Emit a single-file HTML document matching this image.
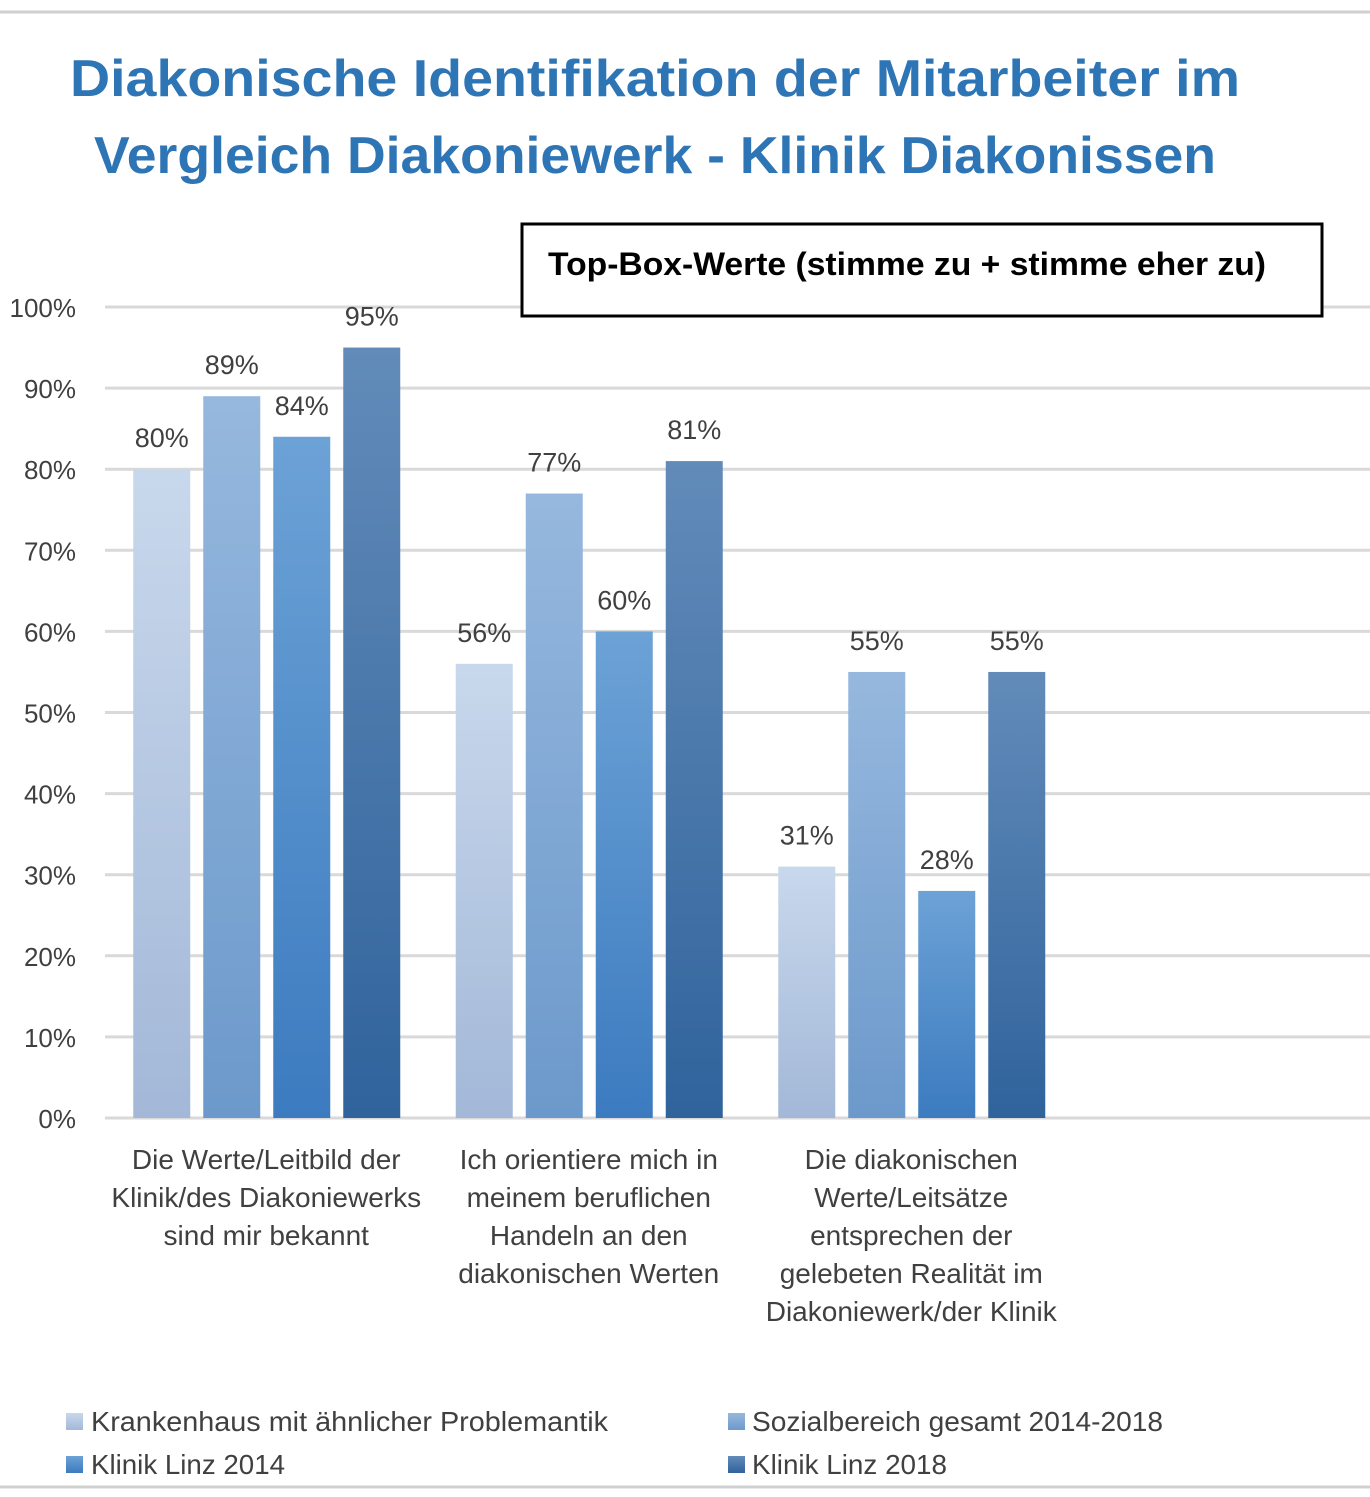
<!DOCTYPE html>
<html><head><meta charset="utf-8"><style>
body{margin:0;background:#fff;}
svg text{font-family:"Liberation Sans",sans-serif;}
</style></head><body>
<svg width="1370" height="1492" xmlns="http://www.w3.org/2000/svg">
<defs>
<linearGradient id="g0" x1="0" y1="0" x2="0" y2="1"><stop offset="0" stop-color="#c8d8ec"/><stop offset="1" stop-color="#a3b8d8"/></linearGradient>
<linearGradient id="g1" x1="0" y1="0" x2="0" y2="1"><stop offset="0" stop-color="#96b8de"/><stop offset="1" stop-color="#6c99cb"/></linearGradient>
<linearGradient id="g2" x1="0" y1="0" x2="0" y2="1"><stop offset="0" stop-color="#6ca2d6"/><stop offset="1" stop-color="#3c7bc0"/></linearGradient>
<linearGradient id="g3" x1="0" y1="0" x2="0" y2="1"><stop offset="0" stop-color="#628bb9"/><stop offset="1" stop-color="#30639c"/></linearGradient>
</defs>
<line x1="0" y1="12" x2="1370" y2="12" stroke="#d0d0d0" stroke-width="3"/>
<line x1="0" y1="1487" x2="1370" y2="1487" stroke="#d0d0d0" stroke-width="3"/>
<text x="655" y="96" text-anchor="middle" font-size="52" font-weight="bold" fill="#2e75b6" textLength="1170" lengthAdjust="spacingAndGlyphs">Diakonische Identifikation der Mitarbeiter im</text>
<text x="655" y="173" text-anchor="middle" font-size="52" font-weight="bold" fill="#2e75b6" textLength="1122" lengthAdjust="spacingAndGlyphs">Vergleich Diakoniewerk - Klinik Diakonissen</text>
<g id="grid"></g>
<rect x="522" y="224" width="800" height="92" fill="#fff" stroke="#000" stroke-width="3"/>
<text x="548" y="275" font-size="32" font-weight="bold" fill="#000" textLength="718" lengthAdjust="spacingAndGlyphs">Top-Box-Werte (stimme zu + stimme eher zu)</text>
<g id="bars"></g><g id="labels"></g>
<g id="legend" font-size="28" fill="#404040">
<rect x="66" y="1413" width="17" height="17" fill="url(#g0)"/>
<text x="91" y="1431" textLength="517" lengthAdjust="spacingAndGlyphs">Krankenhaus mit ähnlicher Problemantik</text>
<rect x="728" y="1413" width="17" height="17" fill="url(#g1)"/>
<text x="752" y="1431" textLength="411" lengthAdjust="spacingAndGlyphs">Sozialbereich gesamt 2014-2018</text>
<rect x="66" y="1456" width="17" height="17" fill="url(#g2)"/>
<text x="91" y="1474" textLength="194" lengthAdjust="spacingAndGlyphs">Klinik Linz 2014</text>
<rect x="728" y="1456" width="17" height="17" fill="url(#g3)"/>
<text x="752" y="1474" textLength="195" lengthAdjust="spacingAndGlyphs">Klinik Linz 2018</text>
</g>
</svg>
<script>
const categories=[["Die Werte/Leitbild der","Klinik/des Diakoniewerks","sind mir bekannt"],["Ich orientiere mich in","meinem beruflichen","Handeln an den","diakonischen Werten"],["Die diakonischen","Werte/Leitsätze","entsprechen der","gelebeten Realität im","Diakoniewerk/der Klinik"]];
const krankenhaus=[80,56,31];
const sozialbereich=[89,77,55];
const linz2014=[84,60,28];
const linz2018=[95,81,55];
const yTicks=[0,10,20,30,40,50,60,70,80,90,100];
const series=[krankenhaus,sozialbereich,linz2014,linz2018];
const ns="http://www.w3.org/2000/svg";
const y=v=>1118-v*8.11;
const band=322.5, x0=105;
const cx=i=>x0+band*(i+0.5);
function mk(t,a,p){const e=document.createElementNS(ns,t);for(const k in a)e.setAttribute(k,a[k]);document.getElementById(p).appendChild(e);return e;}
yTicks.forEach(t=>{
 const l=mk('line',{x1:105,x2:1370,y1:y(t),y2:y(t),stroke:'#d9d9d9','stroke-width':3},'grid');
 
 
 const tx=mk('text',{x:76,y:y(t)+10,'text-anchor':'end','font-size':26,fill:'#404040'},'labels');
 tx.textContent=t+'%';
 
 
});
categories.forEach((c,i)=>{
 series.forEach((s,j)=>{
  const bx=cx(i)-133+j*70;
  const r=mk('rect',{x:bx,y:y(s[i]),width:57,height:y(0)-y(s[i]),fill:'url(#g'+j+')'},'bars');
  
  
  const t=mk('text',{x:bx+28.5,y:y(s[i])-22,'text-anchor':'middle','font-size':27,fill:'#404040'},'labels');
  t.textContent=s[i]+'%';
  
  
 });
 c.forEach((line,k)=>{
  const t=mk('text',{x:cx(i),y:1169+k*38,'text-anchor':'middle','font-size':28,fill:'#404040'},'labels');
  t.textContent=line;
  
  
 });
});
</script>
</body></html>
